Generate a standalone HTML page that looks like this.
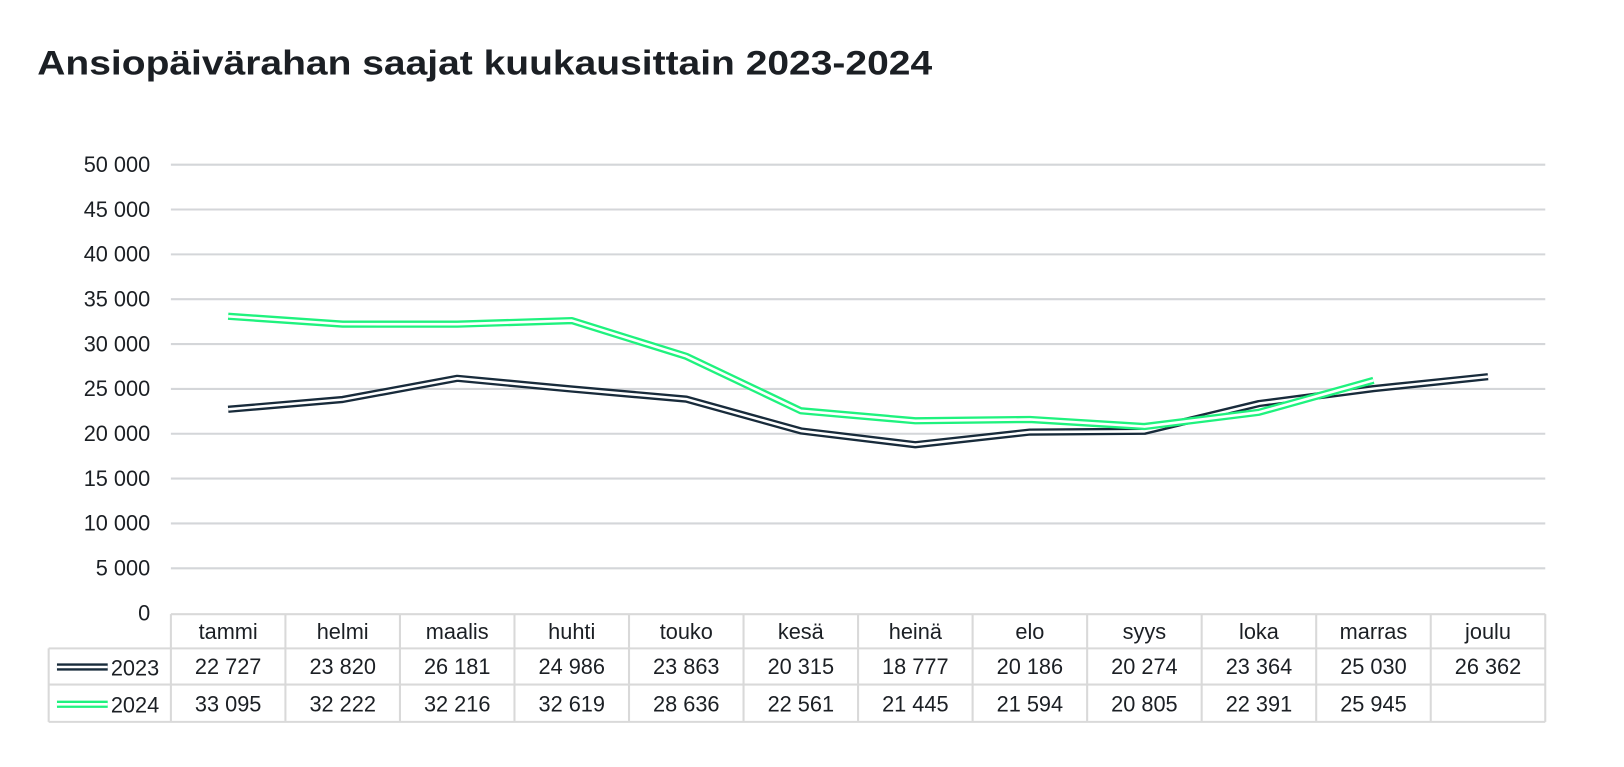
<!DOCTYPE html>
<html><head><meta charset="utf-8"><style>
body{margin:0;background:#fff;}
svg text{font-family:"Liberation Sans",sans-serif;fill:#1b1f24;}
</style></head><body>
<svg width="1624" height="762" xmlns="http://www.w3.org/2000/svg">
<g id="root" transform="scale(1.0357)">
<text x="36" y="72" font-size="33" style="font-weight:600" textLength="864" lengthAdjust="spacingAndGlyphs">Ansiopäivärahan saajat kuukausittain 2023-2024</text>
</g>
</svg>
<script>
const s=document.getElementById('root');const NS='http://www.w3.org/2000/svg';
function el(t,a,txt){const e=document.createElementNS(NS,t);for(const k in a)e.setAttribute(k,a[k]);if(txt!==undefined)e.textContent=txt;s.appendChild(e);return e;}
const X0=165,X1=1492,W=(X1-X0)/12;
const Y=v=>592-v*433/50000;
for(let i=0;i<=10;i++){const v=i*5000,y=Y(v);
 if(i>0)el('line',{x1:X0,x2:X1,y1:y,y2:y,stroke:'#d4d6d9','stroke-width':2});
 el('text',{x:145,y:y+7,'text-anchor':'end','font-size':21},i==0?'0':(v/1000)+' 000');}
const m=['tammi','helmi','maalis','huhti','touko','kesä','heinä','elo','syys','loka','marras','joulu'];
const a=[22727,23820,26181,24986,23863,20315,18777,20186,20274,23364,25030,26362];
const b=[33095,32222,32216,32619,28636,22561,21445,21594,20805,22391,25945];
const fmt=v=>String(v).replace(/(\d+)(\d{3})$/,'$1 $2');
function line(d,c){const p=d.map((v,i)=>(X0+W*(i+.5))+','+Y(v)).join(' ');
 el('polyline',{points:p,fill:'none',stroke:c,'stroke-width':7,'stroke-linejoin':'round'});
 el('polyline',{points:p,fill:'none',stroke:'#fff','stroke-width':2.5,'stroke-linejoin':'round'});}
line(a,'#182b3b');line(b,'#1ff27e');
const G='#d9d9d9';
const L=(x1,y1,x2,y2)=>el('line',{x1,y1,x2,y2,stroke:G,'stroke-width':2});
L(X0,593,X1,593);L(47,626,X1,626);L(47,661,X1,661);L(47,697,X1,697);
L(47,626,47,697);
for(let i=0;i<=12;i++)L(X0+W*i,593,X0+W*i,697);
m.forEach((t,i)=>{const cx=X0+W*(i+.5);
 el('text',{x:cx,y:617,'text-anchor':'middle','font-size':21},t);
 el('text',{x:cx,y:651,'text-anchor':'middle','font-size':21},fmt(a[i]));
 if(b[i])el('text',{x:cx,y:687,'text-anchor':'middle','font-size':21},fmt(b[i]));});
function leg(y,c,t){el('line',{x1:55,x2:104,y1:y,y2:y,stroke:c,'stroke-width':7});el('line',{x1:55,x2:104,y1:y,y2:y,stroke:'#fff','stroke-width':2.5});el('text',{x:107,y:y+8,'font-size':21},t);}
leg(644,'#182b3b','2023');leg(680,'#1ff27e','2024');
</script>
</body></html>
